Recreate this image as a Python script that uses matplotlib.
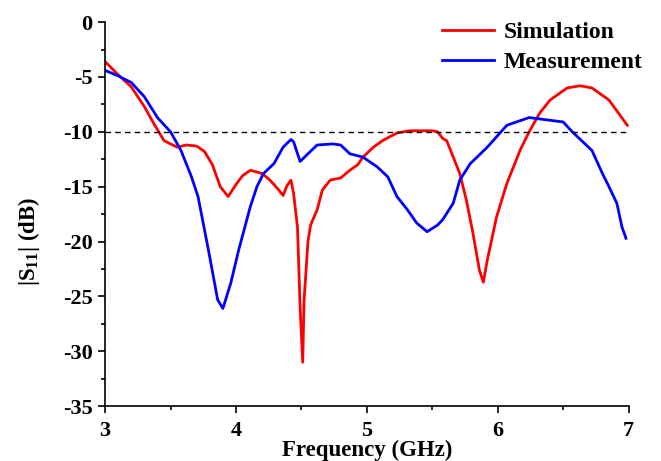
import numpy as np
import matplotlib
matplotlib.use('Agg')
import matplotlib.pyplot as plt
from matplotlib.ticker import MultipleLocator

## Simulated |S11|
sim_f = [3.0, 3.05, 3.1, 3.2, 3.3, 3.37, 3.45, 3.55, 3.62, 3.7, 3.76, 3.82, 3.88, 3.94,
         4.0, 4.05, 4.11, 4.2, 4.26, 4.32, 4.36, 4.39, 4.42, 4.44, 4.47, 4.49, 4.51,
         4.52, 4.55, 4.57, 4.62, 4.66, 4.72, 4.8, 4.87, 4.93, 4.97, 5.05, 5.12, 5.23,
         5.33, 5.5, 5.54, 5.58, 5.61, 5.66, 5.71, 5.76, 5.81, 5.86, 5.89, 5.92, 5.99,
         6.07, 6.17, 6.24, 6.32, 6.4, 6.53, 6.63, 6.72, 6.85, 6.99]
sim_db = [-3.6, -4.2, -4.8, -5.9, -7.7, -9.2, -10.8, -11.4, -11.2, -11.3, -11.8, -13.0, -15.0, -15.9,
          -14.8, -14.0, -13.5, -13.8, -14.4, -15.2, -15.8, -14.9, -14.4, -15.6, -18.7, -26.0, -31.0,
          -25.4, -20.0, -18.5, -17.1, -15.3, -14.4, -14.2, -13.5, -13.0, -12.3, -11.4, -10.8, -10.1,
          -9.9, -9.9, -10.0, -10.6, -10.8, -12.3, -13.8, -16.2, -19.2, -22.6, -23.7, -21.7, -17.8,
          -14.7, -11.7, -10.0, -8.3, -7.1, -6.0, -5.8, -6.0, -7.1, -9.4]

## Measured |S11|
meas_f = [3.0, 3.1, 3.2, 3.3, 3.4, 3.5, 3.58, 3.66, 3.71, 3.79, 3.86, 3.9, 3.96, 4.02,
          4.11, 4.16, 4.21, 4.29, 4.36, 4.42, 4.44, 4.49, 4.55, 4.62, 4.74, 4.8, 4.87,
          4.97, 5.08, 5.16, 5.23, 5.31, 5.38, 5.46, 5.54, 5.58, 5.66, 5.71, 5.79, 5.92,
          6.07, 6.24, 6.37, 6.5, 6.57, 6.72, 6.8, 6.85, 6.91, 6.95, 6.98]
meas_db = [-4.4, -4.9, -5.5, -6.8, -8.7, -10.0, -11.7, -14.1, -15.9, -20.8, -25.3, -26.1, -23.8, -20.8,
           -16.8, -15.0, -13.8, -12.9, -11.4, -10.7, -10.9, -12.7, -12.0, -11.2, -11.1, -11.2, -12.0,
           -12.3, -13.2, -14.1, -15.9, -17.1, -18.3, -19.1, -18.5, -18.0, -16.5, -14.4, -12.9, -11.4,
           -9.4, -8.7, -8.9, -9.1, -10.0, -11.7, -13.8, -15.0, -16.5, -18.7, -19.7]

plt.rcParams['font.family'] = 'Liberation Serif'
plt.rcParams['font.weight'] = 'bold'
plt.rcParams['axes.unicode_minus'] = False
plt.rcParams['mathtext.fontset'] = 'custom'
plt.rcParams['mathtext.rm'] = 'Liberation Serif:bold'
plt.rcParams['mathtext.it'] = 'Liberation Serif:bold'
plt.rcParams['mathtext.bf'] = 'Liberation Serif:bold'

fig = plt.figure(figsize=(6.61, 4.61), dpi=100)
ax = fig.add_axes([0.159, 0.119, 0.792, 0.833])

ax.plot(sim_f, sim_db, color='#ff0000', lw=2, label='Simulation')
ax.plot(meas_f, meas_db, color='#0000ff', lw=2, label='Measurement')
ax.axhline(-10, color='black', lw=1, ls=(0, (4, 3)))

ax.set_xlim(3, 7)
ax.set_ylim(-35, 0)
ax.xaxis.set_major_locator(MultipleLocator(1))
ax.xaxis.set_minor_locator(MultipleLocator(0.5))
ax.yaxis.set_major_locator(MultipleLocator(5))
ax.yaxis.set_minor_locator(MultipleLocator(2.5))
ax.tick_params(which='major', direction='out', length=5, width=1.2, labelsize=16)
ax.tick_params(axis='x', which='major', pad=6)
ax.tick_params(axis='y', which='major', pad=4)
ax.tick_params(which='minor', direction='out', length=3, width=1.2)
for s in ['top', 'right']:
    ax.spines[s].set_visible(False)
for s in ['left', 'bottom']:
    ax.spines[s].set_linewidth(1.2)

ax.set_xlabel('Frequency (GHz)', fontsize=16.5, fontweight='bold')
ax.xaxis.set_label_coords(0.5, -0.087)
ax.set_ylabel(r'|S$_{11}$| (dB)', fontsize=16.5, fontweight='bold')
ax.yaxis.set_label_coords(-0.12, 0.43)

ax.legend(loc='upper right', frameon=False, handlelength=2.2,
          borderaxespad=0.0, bbox_to_anchor=(1.045, 1.025), labelspacing=0.35,
          handletextpad=0.4, prop={'weight': 'bold', 'size': 17})

fig.savefig('out.png', dpi=100)
